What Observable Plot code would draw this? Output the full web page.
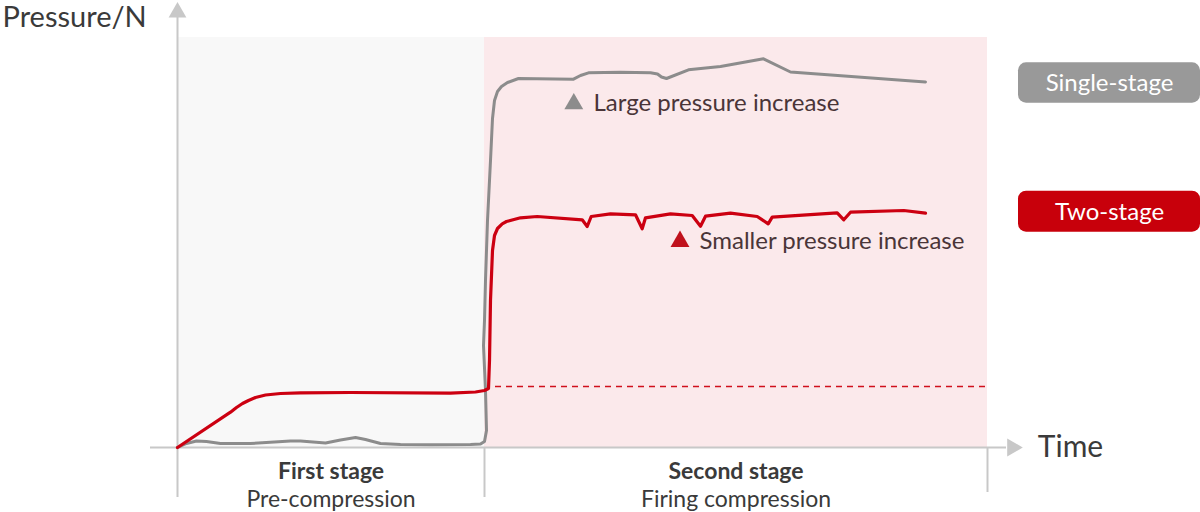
<!DOCTYPE html>
<html>
<head>
<meta charset="utf-8">
<script src="https://cdn.jsdelivr.net/npm/d3@7"></script>
<script src="https://cdn.jsdelivr.net/npm/@observablehq/plot@0.6"></script>
<style>
  html, body { margin: 0; padding: 0; background: #ffffff; }
  #chart svg { display: block; }
</style>
</head>
<body>
<div id="chart"></div>
<script>
// ---- Data (arbitrary time / pressure units) ----
const singleTime = [0, 9, 19, 29, 43, 73, 113, 123, 148, 163, 178, 188, 203, 223, 253, 293, 303, 307, 309, 308, 306, 307, 308, 310, 313, 315, 317, 320, 324, 330, 341, 396, 403, 411, 443, 473, 480, 484, 489, 511, 543, 586, 613, 748];
const singlePressure = [0, 4, 6.5, 6, 4, 4, 6.5, 6.5, 4.5, 7.5, 10, 8, 4, 3, 2.7, 3, 3.5, 6, 17, 57, 102, 127, 167, 227, 287, 329, 347, 356, 361, 365, 369, 368.3, 372, 374.7, 375.2, 374.7, 373.5, 370.5, 369, 377.7, 381, 388.7, 375.5, 365.5];

const twoTime = [0, 53, 59, 65, 71, 78, 88, 103, 123, 173, 273, 298, 307, 311, 312, 313, 315, 317, 320, 324.7, 329, 343, 359.7, 404.7, 409.7, 413.7, 433, 458, 464.7, 468, 493, 514.7, 523, 528, 553, 579.7, 590.7, 594.7, 659.7, 666.3, 673, 726.3, 748];
const twoPressure = [0, 35.3, 40, 44, 47, 50, 52.5, 54, 54.7, 55, 54.3, 55.5, 57, 59, 87, 147, 197, 212, 219, 223.7, 226, 229.7, 231, 227.7, 221, 231, 233.7, 232.7, 218.7, 229.7, 233.7, 232, 221.3, 231.3, 234.3, 231, 223.7, 230.3, 234.7, 227.7, 235.3, 237, 234.3];

const stageBounds = [0, 307, 810];          // start, switch to second stage, end
const pressureTop = 410;                     // top of shaded area
const firstStageLevel = 61;                  // two-stage pressure at switch (dashed reference)
const stageNames = ["First stage", "Second stage"];
const stageSubtitles = ["Pre-compression", "Firing compression"];
const seriesNames = ["Single-stage", "Two-stage"];
const annotationTexts = ["Large pressure increase", "Smaller pressure increase"];
const yTitle = "Pressure/N";
const xTitle = "Time";

// ---- Build tables ----
const single = singleTime.map((t, i) => ({t, p: singlePressure[i]}));
const two = twoTime.map((t, i) => ({t, p: twoPressure[i]}));
const stages = stageNames.map((name, i) => ({
  name, sub: stageSubtitles[i],
  x1: stageBounds[i], x2: stageBounds[i + 1],
  mid: (stageBounds[i] + stageBounds[i + 1]) / 2,
  fill: i === 0 ? "#f8f8f8" : "#fbe9eb"
}));
const legend = [
  {name: seriesNames[0], x1: 841, x2: 1023, y1: 344.3, y2: 384.7, ty: 356.3, fill: "#999999"},
  {name: seriesNames[1], x1: 841, x2: 1023, y1: 215.3, y2: 256.3, ty: 227.7, fill: "#c8000b"}
];
const notes = [
  {text: annotationTexts[0], tx: 396.3, ty: 343.7, x: 416, y: 337, fill: "#8c8c8c"},
  {text: annotationTexts[1], tx: 502.5, ty: 206, x: 522, y: 198.7, fill: "#c0111c"}
];

const axisColor = "#c8c8c8";
const textColor = "#3a3a3a";

const chart = Plot.plot({
  width: 1200,
  height: 512,
  marginLeft: 177,
  marginRight: 213,
  marginTop: 37,
  marginBottom: 65,
  x: {domain: [stageBounds[0], stageBounds[2]], axis: null},
  y: {domain: [0, pressureTop], axis: null},
  style: {fontFamily: "Lato, 'Open Sans', sans-serif", background: "#ffffff", overflow: "visible"},
  marks: [
    // stage backgrounds
    Plot.rect(stages, {x1: "x1", x2: "x2", y1: 0, y2: pressureTop, fill: "fill"}),
    // axes
    Plot.ruleX([0], {y1: -50, y2: 431, stroke: axisColor, strokeWidth: 2}),
    Plot.ruleY([0], {x1: -27, x2: 829, stroke: axisColor, strokeWidth: 2}),
    Plot.ruleX([stageBounds[1]], {y1: 0, y2: -50, stroke: axisColor, strokeWidth: 2}),
    Plot.ruleX([stageBounds[2]], {y1: 0, y2: -45, stroke: axisColor, strokeWidth: 2}),
    Plot.dot([{x: 0, y: 435.2}], {x: "x", y: "y", symbol: "triangle", r: 6.6, fill: axisColor, stroke: null}),
    Plot.dot([{x: 834.9, y: 0}], {x: "x", y: "y", symbol: "triangle", r: 6.7, rotate: 90, fill: axisColor, stroke: null}),
    // dashed reference
    Plot.ruleY([firstStageLevel], {x1: 318, x2: stageBounds[2], stroke: "#d0101c", strokeWidth: 1.6, strokeDasharray: "6,5"}),
    // series lines
    Plot.line(single, {x: "t", y: "p", stroke: "#8c8c8c", strokeWidth: 3, strokeLinejoin: "round", strokeLinecap: "round"}),
    Plot.line(two, {x: "t", y: "p", stroke: "#cc0011", strokeWidth: 3.2, strokeLinejoin: "round", strokeLinecap: "round"}),
    // annotations
    Plot.dot(notes, {x: "tx", y: "ty", symbol: "triangle", r: 7, fill: "fill", stroke: null}),
    Plot.text(notes, {x: "x", y: "y", text: "text", textAnchor: "start", lineAnchor: "bottom", fontSize: 24, fill: "#4a3538"}),
    // legend boxes
    Plot.rect(legend, {x1: "x1", x2: "x2", y1: "y1", y2: "y2", fill: "fill", rx: 8}),
    Plot.text(legend, {x: d => (d.x1 + d.x2) / 2, y: "ty", text: "name", lineAnchor: "bottom", fontSize: 24, fill: "#ffffff"}),
    // stage labels
    Plot.text(stages, {x: "mid", y: -31.5, text: "name", lineAnchor: "bottom", fontSize: 23, fontWeight: "bold", fill: textColor}),
    Plot.text(stages, {x: "mid", y: -59.5, text: "sub", lineAnchor: "bottom", fontSize: 23, fill: textColor}),
    // axis titles
    Plot.text([yTitle], {x: -175, y: 420.3, text: d => d, textAnchor: "start", lineAnchor: "bottom", fontSize: 29, fill: textColor}),
    Plot.text([xTitle], {x: 860.3, y: -9, text: d => d, textAnchor: "start", lineAnchor: "bottom", fontSize: 30, fill: textColor})
  ]
});
document.getElementById("chart").appendChild(chart);
</script>
</body>
</html>
